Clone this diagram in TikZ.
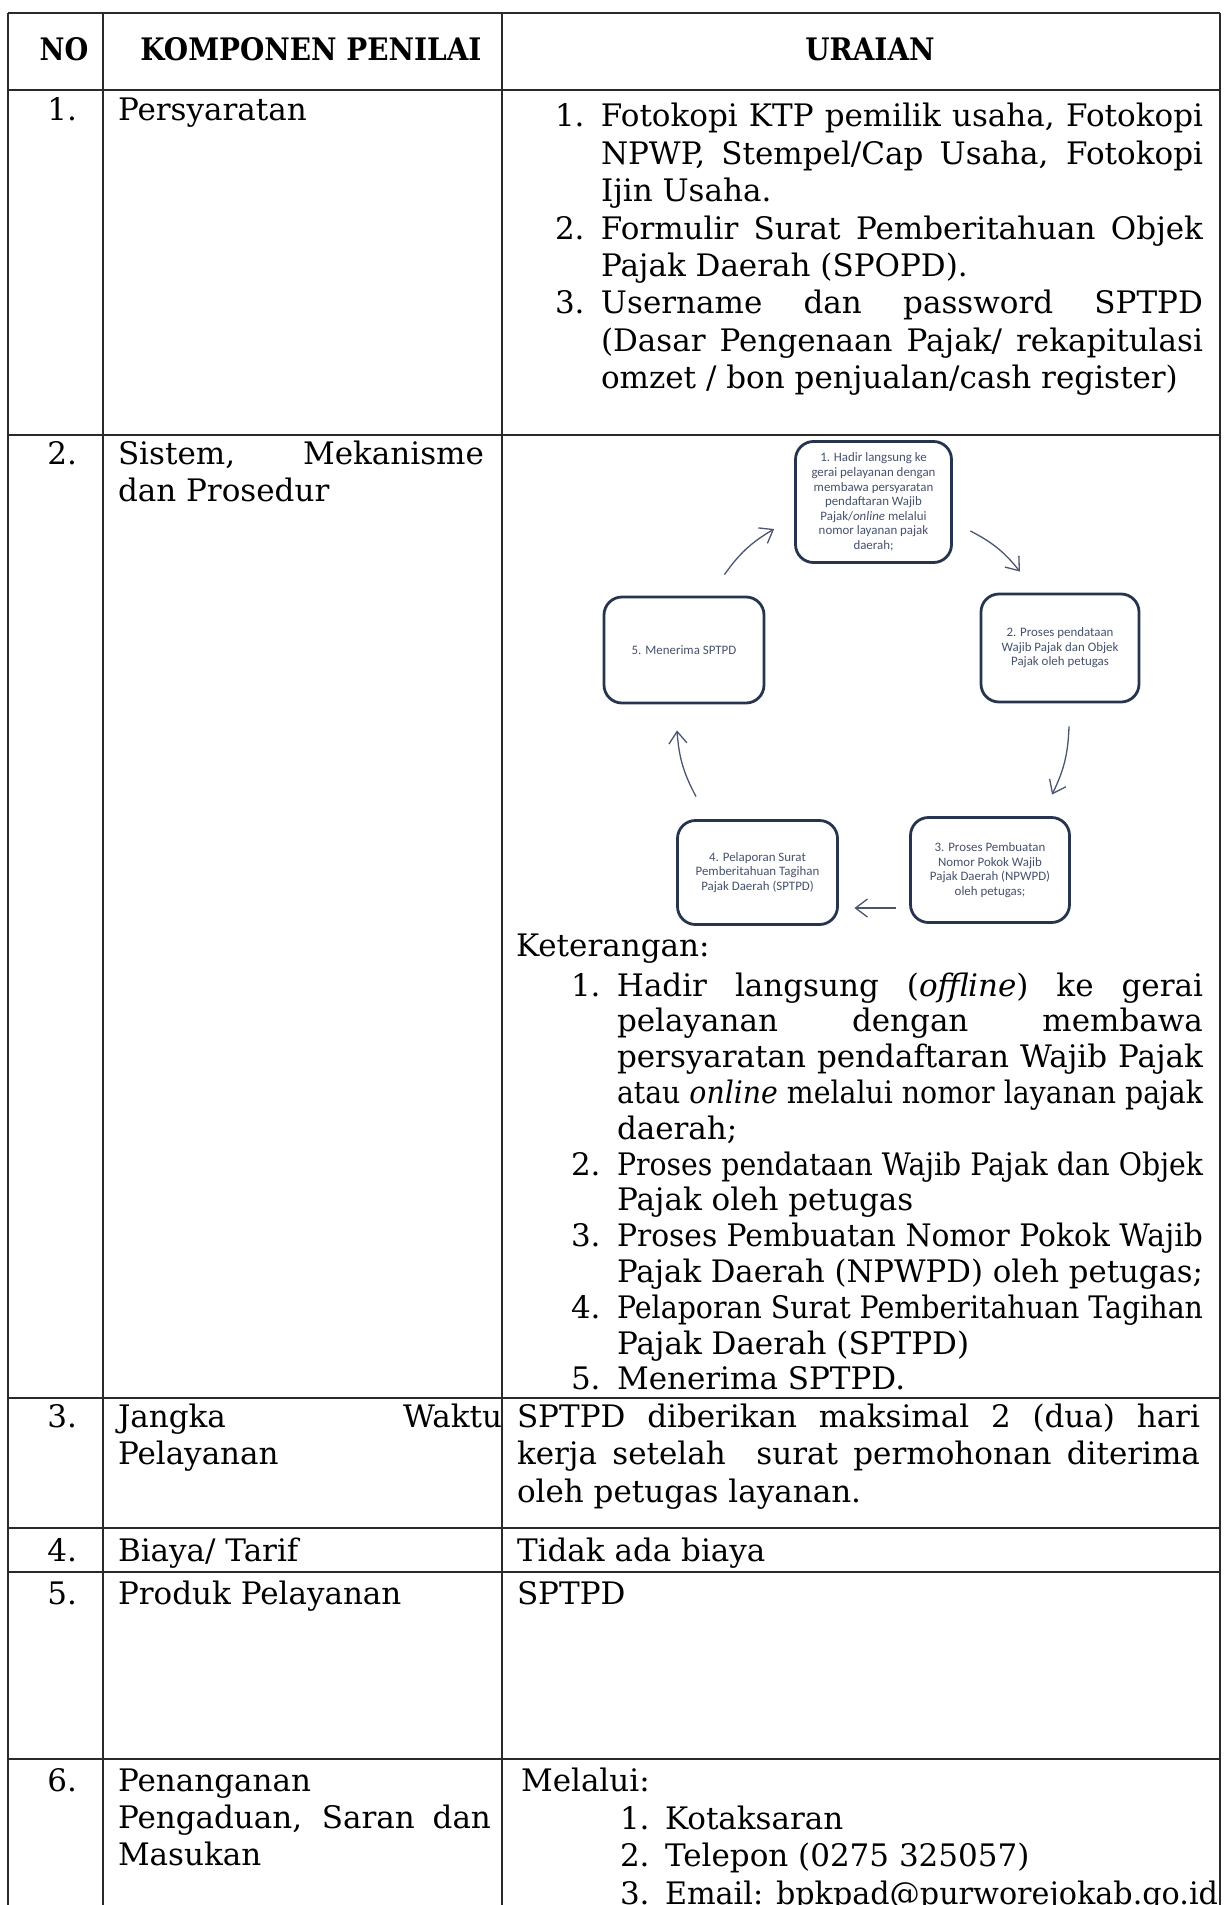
\documentclass[tikz,border=0pt]{standalone}
\usepackage{fontspec}
\setmainfont{DejaVu Serif}
\newfontfamily\carl{Carlito}
\usetikzlibrary{arrows.meta}
\definecolor{boxc}{HTML}{27344D}
\definecolor{boxt}{HTML}{45516B}
\definecolor{arrc}{HTML}{4A5670}
\definecolor{rulec}{HTML}{2A2A2A}
\newlength\hangw
\newcommand\fitJ[2]{\sbox0{#2}\ifdim\wd0>#1\relax\resizebox{#1}{\height}{\usebox0}\else\makebox[#1][s]{#2}\fi}
\newcommand\fitN[2]{\sbox0{#2}\ifdim\wd0>#1\relax\resizebox{#1}{\height}{\usebox0}\else\usebox0\fi}
\newcommand\myJL[1]{\fitJ{\linewidth}{#1}\par}
\newcommand\myLL[1]{\fitN{\linewidth}{#1}\par}
\newcommand\myIJ[2]{\makebox[\hangw][l]{#1}\fitJ{\dimexpr\linewidth-\hangw\relax}{#2}\par}
\newcommand\myIL[2]{\makebox[\hangw][l]{#1}\fitN{\dimexpr\linewidth-\hangw\relax}{#2}\par}
\newcommand\cellbox[4][0pt]{\parbox[t]{#2}{\setlength\hangw{#1}\fontsize{31}{#3}\selectfont\parindent=0pt\parskip=0pt\lineskiplimit=-100pt\relax #4}}
\begin{document}
\begin{tikzpicture}[x=1pt,y=-1pt,
  txt/.style={inner sep=0pt, outer sep=0pt, font=\fontsize{31}{37.4}\selectfont, text=black},
  hdr/.style={inner sep=0pt, outer sep=0pt, font=\bfseries\fontsize{31}{37.4}\selectfont, text=black},
  rule/.style={draw=rulec, line width=1.7pt},
  sbox/.style={draw=boxc, line width=2.8pt, rounded corners=18pt, inner sep=0pt, text=boxt, align=center,
     font=\carl\fontsize{12.9}{14.6}\selectfont},
  arr/.style={draw=arrc, line width=1.3pt, -{Straight Barb[length=12pt,width=18pt]}}]
\lineskiplimit=-100pt
\useasboundingbox (0,0) rectangle (1227,1905);
\clip (0,0) rectangle (1227,1905);
% table rules
\draw[rule] (8,13) -- (1220,13);
\draw[rule] (8,90) -- (1220,90);
\draw[rule] (8,435) -- (1220,435);
\draw[rule] (8,1398) -- (1220,1398);
\draw[rule] (8,1528) -- (1220,1528);
\draw[rule] (8,1572) -- (1220,1572);
\draw[rule] (8,1759) -- (1220,1759);
\draw[rule] (8,13) -- (8,1905);
\draw[rule] (103,13) -- (103,1905);
\draw[rule] (502,13) -- (502,1905);
\draw[rule] (1220,13) -- (1220,1905);
% header
\node[hdr, anchor=base] (hno) at (64,61) {\scalebox{0.88}[1]{NO}};
\node[hdr, anchor=base] (hkp) at (311,61) {\scalebox{0.9}[1]{KOMPONEN PENILAI}};
\node[hdr, anchor=base] (hur) at (870,61) {\scalebox{0.9}[1]{URAIAN}};
% row 1
\node[txt, anchor=base east] (n1) at (77,121) {1.};
\node[txt, anchor=base west] (k1) at (118,121) {Persyaratan};
\node[txt, anchor=base west] (u1) at (555,127) {\cellbox[46pt]{648pt}{37.4pt}{%
\myIJ{1.}{Fotokopi KTP pemilik usaha, Fotokopi}
\myIJ{}{NPWP, Stempel/Cap Usaha, Fotokopi}
\myIL{}{Ijin Usaha.}
\myIJ{2.}{Formulir Surat Pemberitahuan Objek}
\myIL{}{Pajak Daerah (SPOPD).}
\myIJ{3.}{Username dan password SPTPD}
\myIJ{}{(Dasar Pengenaan Pajak/ rekapitulasi}
\myIL{}{omzet / bon penjualan/cash register)}}};
% row 2
\node[txt, anchor=base east] (n2) at (77,464) {2.};
\node[txt, anchor=base west] (k2) at (118,464) {\cellbox{366pt}{37.6pt}{%
\myJL{Sistem, Mekanisme}
\myLL{dan Prosedur}}};
% cycle diagram
\node[sbox, minimum width=156pt, minimum height=121pt] (b1) at (873.5,502) {1. Hadir langsung ke\\gerai pelayanan dengan\\membawa persyaratan\\pendaftaran Wajib\\Pajak/\textit{online} melalui\\nomor layanan pajak\\daerah;};
\node[sbox, minimum width=158pt, minimum height=108pt] (b2) at (1060,648) {2. Proses pendataan\\Wajib Pajak dan Objek\\Pajak oleh petugas};
\node[sbox, minimum width=159pt, minimum height=105pt] (b3) at (990,870) {3. Proses Pembuatan\\Nomor Pokok Wajib\\Pajak Daerah (NPWPD)\\oleh petugas;};
\node[sbox, minimum width=160pt, minimum height=104pt] (b4) at (757.5,872.5) {4. Pelaporan Surat\\Pemberitahuan Tagihan\\Pajak Daerah (SPTPD)};
\node[sbox, minimum width=160pt, minimum height=106pt] (b5) at (684,650) {5. Menerima SPTPD};
\draw[arr] ([shift={(-41,-21)}]b5.north east) to[bend left=12] ([shift={(-20,27)}]b1.west);
\draw[arr] ([shift={(17.5,29)}]b1.east) to[bend left=12] ([shift={(-40,-21)}]b2.north);
\draw[arr] ([shift={(9,23)}]b2.south) to[bend left=12] ([shift={(62,-21.5)}]b3.north);
\draw[arr] ([shift={(-13.5,38)}]b3.west) -- ([shift={(15.5,35.5)}]b4.east);
\draw[arr] ([shift={(-61.5,-22.5)}]b4.north) to[bend left=12] ([shift={(-7,26)}]b5.south);
\node[txt, anchor=base west] (ket) at (516,956) {Keterangan:};
\node[txt, anchor=base west] (kl) at (571,996) {\cellbox[46pt]{632pt}{35.8pt}{%
\myIJ{1.}{Hadir langsung (\textit{offline}) ke gerai}
\myIJ{}{pelayanan dengan membawa}
\myIJ{}{persyaratan pendaftaran Wajib Pajak}
\myIJ{}{atau \textit{online} melalui nomor layanan pajak}
\myIL{}{daerah;}
\myIJ{2.}{Proses pendataan Wajib Pajak dan Objek}
\myIL{}{Pajak oleh petugas}
\myIJ{3.}{Proses Pembuatan Nomor Pokok Wajib}
\myIL{}{Pajak Daerah (NPWPD) oleh petugas;}
\myIJ{4.}{Pelaporan Surat Pemberitahuan Tagihan}
\myIL{}{Pajak Daerah (SPTPD)}
\myIL{5.}{Menerima SPTPD.}}};
% row 3
\node[txt, anchor=base east] (n3) at (77,1427) {3.};
\node[txt, anchor=base west] (k3) at (118,1427) {\cellbox{384pt}{37.7pt}{%
\myJL{Jangka Waktu}
\myLL{Pelayanan}}};
\node[txt, anchor=base west] (u3) at (517,1427) {\cellbox{683pt}{37.7pt}{%
\myJL{SPTPD diberikan maksimal 2 (dua) hari}
\myJL{kerja setelah\ \ surat permohonan diterima}
\myLL{oleh petugas layanan.}}};
% row 4
\node[txt, anchor=base east] (n4) at (77,1561) {4.};
\node[txt, anchor=base west] (k4) at (118,1561) {Biaya/ Tarif};
\node[txt, anchor=base west] (u4) at (517,1561) {Tidak ada biaya};
% row 5
\node[txt, anchor=base east] (n5) at (77,1604) {5.};
\node[txt, anchor=base west] (k5) at (118,1604) {Produk Pelayanan};
\node[txt, anchor=base west] (u5) at (517,1604) {SPTPD};
% row 6
\node[txt, anchor=base east] (n6) at (77,1791) {6.};
\node[txt, anchor=base west] (k6) at (118,1791) {\cellbox{373pt}{37.2pt}{%
\myLL{Penanganan}
\myJL{Pengaduan, Saran dan}
\myLL{Masukan}}};
\node[txt, anchor=base west] (mel) at (521,1791) {Melalui:};
\node[txt, anchor=base west] (u6) at (620,1829) {\cellbox[45pt]{598pt}{37.5pt}{%
\myIL{1.}{Kotaksaran}
\myIL{2.}{Telepon (0275 325057)}
\myIL{3.}{Email: bpkpad@purworejokab.go.id}}};
\end{tikzpicture}
\end{document}
